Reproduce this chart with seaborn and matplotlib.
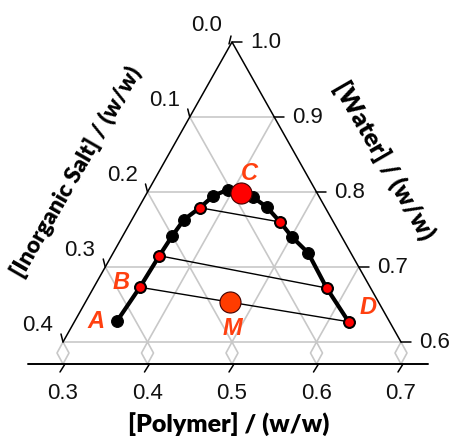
import matplotlib
matplotlib.use("Agg")
import matplotlib.pyplot as plt
import numpy as np
import pandas as pd
import seaborn as sns

# Binodal curve of the aqueous two-phase system (polymer axis value, water fraction)
binodal_polymer = [0.364, 0.391, 0.414, 0.429, 0.443, 0.462, 0.478, 0.495,
                   0.511, 0.525, 0.541, 0.557, 0.571, 0.590, 0.612, 0.638]
binodal_water = [0.628, 0.673, 0.715, 0.741, 0.763, 0.779, 0.795, 0.803,
                 0.799, 0.793, 0.780, 0.760, 0.740, 0.719, 0.672, 0.627]

# Tie lines as index pairs into the binodal (salt-rich end, polymer-rich end)
tie_left = [5, 2, 1]
tie_right = [11, 14, 15]

# Critical point and the overall mixture composition
critical_index = 8
mixture_polymer = [0.498]
mixture_water = [0.653]

point_labels = ["A", "B", "C", "D", "M"]

salt_ticks = [0.0, 0.1, 0.2, 0.3, 0.4]
water_ticks = [1.0, 0.9, 0.8, 0.7, 0.6]
polymer_ticks = [0.3, 0.4, 0.5, 0.6, 0.7]

W, H, DPI = 456, 441, 100
PX_X, PX_Y = 845.0, 750.0          # pixels per data unit
X0 = 0.3 - 63 / PX_X
Y1 = 0.6 + 342 / PX_Y

sns.set_style("white")
plt.rcParams["font.family"] = ["Liberation Sans", "DejaVu Sans"]

fig = plt.figure(figsize=(W / DPI, H / DPI), dpi=DPI)
ax = fig.add_axes([0, 0, 1, 1])
ax.set_xlim(X0, X0 + W / PX_X)
ax.set_ylim(Y1 - H / PX_Y, Y1)
ax.axis("off")

def dx(p):
    return p / PX_X

def dy(p):
    return p / PX_Y

GRID = "#c8c8c8"
base_w = 0.6
axis_y = base_w - dy(22)
apex = (0.5, 1.0)
left_corner = (0.3, base_w)
right_corner = (0.7, base_w)

# Horizontal grid lines (constant water)
for w in [0.9, 0.8, 0.7, 0.6]:
    xl = 0.3 + (w - 0.6) / 2
    xr = 0.7 - (w - 0.6) / 2
    ax.plot([xl, xr], [w, w], color=GRID, lw=1.2, zorder=1)

# Diagonal grid lines from base points
for x0 in [0.4, 0.5, 0.6]:
    xr = (1.4 + 2 * x0) / 4
    ax.plot([x0, xr], [base_w, base_w + 2 * (xr - x0)], color=GRID, lw=1.2, zorder=1)
    xl = (2 * x0 + 0.6) / 4
    ax.plot([x0, xl], [base_w, base_w - 2 * (xl - x0)], color=GRID, lw=1.2, zorder=1)

# Diamond tick guides between triangle base and polymer axis
mid_y = base_w - dy(11)
half = dx(6)
for x0 in polymer_ticks:
    ax.plot([x0, x0 - half, x0, x0 + half, x0],
            [base_w, mid_y, axis_y, mid_y, base_w], color=GRID, lw=1.2, zorder=1)

# Triangle sides
ax.plot([left_corner[0], apex[0], right_corner[0]],
        [left_corner[1], apex[1], right_corner[1]], color="black", lw=1.1, zorder=2)

# Polymer axis line with ticks
ax.plot([X0 + dx(28), X0 + dx(428)], [axis_y, axis_y], color="black", lw=1.4, zorder=2)
for x0 in polymer_ticks:
    ax.plot([x0 + dx(2), x0 - dx(3)], [axis_y, axis_y - dy(8)], color="black", lw=1.1)
    ax.text(x0, axis_y - dy(29), f"{x0:.1f}", ha="center", va="center", fontsize=16,
            color="#111111")

# Salt ticks on the left side
for s in salt_ticks:
    w = 1.0 - s
    xt = 0.3 + (w - 0.6) / 2
    if s > 0:
        ax.plot([xt, xt - dx(2)], [w, w + dy(8)], color="black", lw=1.1)
    ax.text(xt - dx(10), w + dy(17), f"{s:.1f}", ha="right", va="center",
            fontsize=16, color="#111111")

# Water ticks on the right side
for w in water_ticks:
    xt = 0.7 - (w - 0.6) / 2
    ax.plot([xt, xt + dx(10)], [w, w], color="black", lw=1.1)
    ax.text(xt + dx(18), w, f"{w:.1f}", ha="left", va="center",
            fontsize=16, color="#111111")
ax.plot([0.5 - dx(3), 0.5 - dx(1)], [1.0 - dy(2), 1.0 + dy(6)], color="black", lw=1.1)

# Binodal curve
binodal = pd.DataFrame({"polymer": binodal_polymer, "water": binodal_water})
sns.lineplot(data=binodal, x="polymer", y="water", sort=False, estimator=None,
             color="black", lw=3.0, marker="o", markersize=8.5,
             markeredgecolor="black", ax=ax, zorder=4)

# Tie lines
for i, j in zip(tie_left, tie_right):
    tie = binodal.iloc[[i, j]]
    sns.lineplot(data=tie, x="polymer", y="water", sort=False, estimator=None,
                 color="black", lw=1.0, ax=ax, zorder=3)

ends = binodal.iloc[tie_left + tie_right]
sns.scatterplot(data=ends, x="polymer", y="water", color="#ff0000", s=55,
                edgecolor="black", linewidth=1.1, ax=ax, zorder=6)

# Critical point
crit = binodal.iloc[[critical_index]]
sns.scatterplot(data=crit, x="polymer", y="water", color="#ff0000", s=230,
                edgecolor="#400000", linewidth=0.8, ax=ax, zorder=7)

# Overall mixture point
mix = pd.DataFrame({"polymer": mixture_polymer, "water": mixture_water})
sns.scatterplot(data=mix, x="polymer", y="water", color="#ff3c00", s=230,
                edgecolor="#400000", linewidth=0.8, ax=ax, zorder=7)

# Letter labels
LAB = "#ff4010"
label_pos = {
    "A": (binodal_polymer[0], binodal_water[0], -21, 0),
    "B": (binodal_polymer[1], binodal_water[1], -19, 5),
    "C": (binodal_polymer[critical_index], binodal_water[critical_index], 8, 19),
    "D": (binodal_polymer[-1], binodal_water[-1], 19, 14),
    "M": (mixture_polymer[0], mixture_water[0], 2, -26),
}
for name in point_labels:
    x, y, ox, oy = label_pos[name]
    ax.annotate(name, (x, y), xytext=(ox, oy), textcoords="offset pixels",
                ha="center", va="center", fontsize=17, fontweight="bold",
                fontstyle="italic", color=LAB, zorder=8)

# Axis titles
title_kw = dict(fontweight="heavy", family=["Lato", "DejaVu Sans"],
                ha="center", va="center", color="black")
fig.text(229 / W, 1 - 424 / H, "[Polymer] / (w/w)", fontsize=18, **title_kw)
fig.text(76 / W, 1 - 172 / H, "[Inorganic Salt] / (w/w)", rotation=60,
         rotation_mode="anchor", fontsize=16.5, **title_kw)
fig.text(384 / W, 1 - 160 / H, "[Water] / (w/w)", rotation=-60,
         rotation_mode="anchor", fontsize=18, **title_kw)

fig.savefig("out.png", dpi=DPI)
